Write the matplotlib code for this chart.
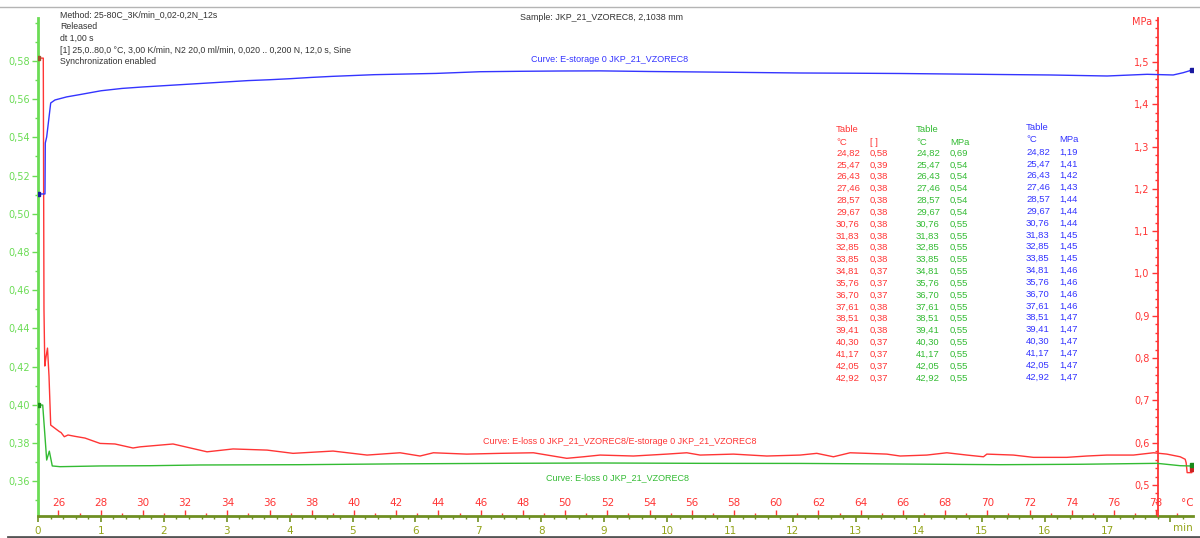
import matplotlib
matplotlib.use("Agg")
import matplotlib.pyplot as plt
from matplotlib.ticker import MultipleLocator, FixedLocator, FuncFormatter

# E-storage, MPa (right axis)
t_storage = [0, 0.111, 0.116, 0.138, 0.202, 0.270, 0.456, 0.668, 1.002, 1.335, 1.669,
             2.003, 2.337, 2.671, 3.005, 3.339, 3.672, 4.006, 4.340, 4.674, 5.008, 5.342,
             5.994, 6.328, 7.027, 7.663, 8.299, 8.935, 9.730, 10.525, 11.320, 12.114,
             12.909, 13.704, 14.499, 15.294, 16.089, 16.995, 17.631, 18.045, 18.204, 18.347]
e_storage = [1.188, 1.188, 1.3085, 1.3227, 1.4031, 1.4102, 1.4175, 1.4230, 1.4320, 1.4375,
             1.4410, 1.4440, 1.4470, 1.4500, 1.4530, 1.4560, 1.4580, 1.4605, 1.4635, 1.4660,
             1.4680, 1.4700, 1.4720, 1.4730, 1.4770, 1.4780, 1.4787, 1.4790, 1.4775, 1.4764,
             1.4752, 1.4740, 1.4735, 1.4728, 1.4716, 1.4704, 1.4693, 1.4669, 1.4709, 1.4693,
             1.4747, 1.4811]

# E-loss, MPa (right axis)
t_loss = [0, 0.075, 0.138, 0.180, 0.227, 0.350, 0.986, 1.781, 2.576, 4.165, 5.755, 7.345,
          8.935, 10.525, 12.114, 13.704, 15.294, 16.566, 17.790, 18.156, 18.315, 18.347]
e_loss = [0.689, 0.689, 0.559, 0.580, 0.545, 0.5433, 0.5450, 0.5456, 0.5473, 0.5480, 0.5500,
          0.5512, 0.5520, 0.5512, 0.5510, 0.5496, 0.5480, 0.5490, 0.5512, 0.5456, 0.5450,
          0.5470]

# E-loss / E-storage (left axis)
t_ratio = [0, 0.084, 0.095, 0.108, 0.127, 0.151, 0.175, 0.202, 0.270, 0.339, 0.366, 0.418,
           0.477, 0.588, 0.747, 0.986, 1.224, 1.510, 1.622, 2.146, 2.687, 3.100, 3.641,
           4.054, 4.690, 5.231, 5.755, 6.073, 6.285, 6.815, 7.345, 7.875, 8.405, 8.670,
           8.935, 9.465, 9.995, 10.313, 10.525, 11.054, 11.585, 12.114, 12.380, 12.644,
           12.909, 13.175, 13.493, 13.704, 14.129, 14.447, 14.765, 15.029, 15.083, 15.505,
           15.824, 16.354, 16.672, 16.990, 17.413, 17.731, 17.944, 18.156, 18.236, 18.251,
           18.267, 18.342, 18.347]
ratio = [0.5815, 0.5815, 0.45, 0.4203, 0.425, 0.4297, 0.415, 0.3894, 0.3877, 0.386, 0.3855,
         0.3833, 0.3842, 0.3835, 0.3826, 0.3798, 0.3795, 0.3774, 0.378, 0.3795, 0.3754,
         0.3769, 0.3763, 0.3746, 0.3758, 0.3737, 0.3749, 0.3732, 0.3749, 0.3742, 0.3746,
         0.3749, 0.3720, 0.3728, 0.3737, 0.3732, 0.3742, 0.3749, 0.3737, 0.3742, 0.3732,
         0.3737, 0.3746, 0.3728, 0.3749, 0.3746, 0.3742, 0.3732, 0.3737, 0.3749, 0.3737,
         0.3728, 0.3742, 0.3737, 0.3725, 0.3725, 0.3732, 0.3737, 0.3737, 0.3749, 0.3742,
         0.3728, 0.3715, 0.3697, 0.3645, 0.3645, 0.3664]

# table values
tab_temp = [24.82, 25.47, 26.43, 27.46, 28.57, 29.67, 30.76, 31.83, 32.85, 33.85,
            34.81, 35.76, 36.70, 37.61, 38.51, 39.41, 40.30, 41.17, 42.05, 42.92]
tab_ratio = [0.58, 0.39, 0.38, 0.38, 0.38, 0.38, 0.38, 0.38, 0.38, 0.38,
             0.37, 0.37, 0.37, 0.38, 0.38, 0.38, 0.37, 0.37, 0.37, 0.37]
tab_loss = [0.69, 0.54, 0.54, 0.54, 0.54, 0.54, 0.55, 0.55, 0.55, 0.55,
            0.55, 0.55, 0.55, 0.55, 0.55, 0.55, 0.55, 0.55, 0.55, 0.55]
tab_storage = [1.19, 1.41, 1.42, 1.43, 1.44, 1.44, 1.44, 1.45, 1.45, 1.45,
               1.46, 1.46, 1.46, 1.46, 1.47, 1.47, 1.47, 1.47, 1.47, 1.47]

header = ["Method: 25-80C_3K/min_0,02-0,2N_12s",
          "Released",
          "dt 1,00 s",
          "[1] 25,0..80,0 \u00b0C, 3,00 K/min, N2 20,0 ml/min, 0,020 .. 0,200 N, 12,0 s, Sine",
          "Synchronization enabled"]
sample = "Sample: JKP_21_VZOREC8, 2,1038 mm"

T0 = 25.03       # temperature at t = 0
RATE = 2.98      # K/min

RED = "#ff3535"
GREEN = "#33bb33"
BLUE = "#3434ff"
LGREEN = "#6bdc55"
OLIVE = "#6f8f22"
TXT = "#333333"
FONT = "Liberation Sans"

W, H = 1200, 538


def px(x, y):
    return x / W, 1 - y / H


def dec(n):
    return FuncFormatter(lambda v, p: f"{v:.{n}f}".replace(".", ","))


fig = plt.figure(figsize=(12, 5.38), dpi=100)
ax = fig.add_axes([38 / W, (H - 516) / H, 1155 / W, 498 / H])
ax.patch.set_visible(False)
ax.set_xlim(0, 18.36)
ax.set_ylim(0.3418, 0.6025)

ax2 = ax.twinx()
ax2.set_ylim(0.4267, 1.604)

for s in ["top", "right"]:
    ax.spines[s].set_visible(False)
ax.spines["left"].set_color(LGREEN)
ax.spines["left"].set_linewidth(2)
ax.spines["bottom"].set_color(OLIVE)
ax.spines["bottom"].set_linewidth(2)

# left axis: ratio
ax.yaxis.set_major_locator(FixedLocator([0.36 + 0.02 * i for i in range(12)]))
ax.yaxis.set_minor_locator(MultipleLocator(0.01))
ax.yaxis.set_major_formatter(dec(2))
ax.tick_params(axis="y", which="major", colors=LGREEN, length=4, width=1, labelsize=7, pad=2)
ax.tick_params(axis="y", which="minor", colors=LGREEN, length=2.5, width=1)

# time axis
ax.xaxis.set_major_locator(MultipleLocator(1))
ax.xaxis.set_minor_locator(MultipleLocator(0.2))
ax.xaxis.set_major_formatter(FuncFormatter(lambda v, p: f"{v:.0f}" if v < 17.5 else ""))
ax.tick_params(axis="x", which="major", colors=OLIVE, length=4, width=1.2, labelsize=7.5,
               labelcolor="#94a41a", pad=3)
ax.tick_params(axis="x", which="minor", colors=OLIVE, length=2.5, width=1)

# right axis (MPa) sits at 17.8 min with labels on its left
for s in ["top", "right", "bottom"]:
    ax2.spines[s].set_visible(False)
ax2.yaxis.tick_left()
ax2.spines["left"].set_position(("data", 17.8))
ax2.spines["left"].set_color(RED)
ax2.spines["left"].set_linewidth(1.3)
ax2.yaxis.set_major_locator(FixedLocator([0.5 + 0.1 * i for i in range(11)]))
ax2.yaxis.set_minor_locator(MultipleLocator(0.02))
ax2.yaxis.set_major_formatter(dec(1))
ax2.tick_params(axis="y", which="major", colors=RED, length=4, width=1, labelsize=7, pad=2)
ax2.tick_params(axis="y", which="minor", colors=RED, length=2.5, width=1)
ax2.tick_params(axis="x", bottom=False, labelbottom=False)

# temperature scale drawn on the time axis, ticks pointing up
sec = ax.secondary_xaxis("top", functions=(lambda t: T0 + RATE * t, lambda T: (T - T0) / RATE))
sec.set_location(0.0)
sec.spines["top"].set_visible(False)
sec.xaxis.set_major_locator(MultipleLocator(2))
sec.xaxis.set_minor_locator(MultipleLocator(1))
sec.xaxis.set_major_formatter(FuncFormatter(lambda v, p: f"{v:.0f}" if v < 79 else ""))
sec.tick_params(axis="x", which="major", colors=RED, length=4, width=1, labelsize=7.5, pad=2)
sec.tick_params(axis="x", which="minor", colors=RED, length=2.5, width=1)

# curves
ax.plot(t_ratio, ratio, color=RED, lw=1.0, zorder=3)
ax2.plot(t_loss, e_loss, color=GREEN, lw=1.0, zorder=3)
ax2.plot(t_storage, e_storage, color=BLUE, lw=1.0, zorder=3)
ax.plot([t_ratio[0]], [ratio[0]], "s", ms=2.5, color="#a0522d", zorder=4)
ax.plot([t_ratio[-1]], [ratio[-1]], "s", ms=2.5, color="#cc2222", zorder=4)
ax2.plot([t_loss[0], t_loss[-1]], [e_loss[0], e_loss[-1]], "s", ms=2.5, color="#1a8a1a", zorder=4)
ax2.plot([t_storage[0], t_storage[-1]], [e_storage[0], e_storage[-1]], "s", ms=2.5,
         color="#1a1aa0", zorder=4)

# axis units
fig.text(*px(1187, 503), "\u00b0C", color=RED, fontsize=7.5, ha="center", va="center")
fig.text(*px(1183, 528), "min", color="#94a41a", fontsize=7.5, ha="center", va="center")
fig.text(*px(1152, 22), "MPa", color=RED, fontsize=7, ha="right", va="center")

# header
for i, line in enumerate(header):
    fig.text(*px(60, 15 + 11.7 * i), line, color=TXT, fontsize=6.3, family=FONT,
             ha="left", va="center")
fig.text(*px(601, 17), sample, color=TXT, fontsize=6.4, family=FONT, ha="center", va="center")

# curve captions
fig.text(*px(610, 60), "Curve: E-storage 0 JKP_21_VZOREC8", color=BLUE, fontsize=6.5,
         family=FONT, ha="center", va="center")
fig.text(*px(620, 441), "Curve: E-loss 0 JKP_21_VZOREC8/E-storage 0 JKP_21_VZOREC8",
         color=RED, fontsize=6.5, family=FONT, ha="center", va="center")
fig.text(*px(617, 478), "Curve: E-loss 0 JKP_21_VZOREC8", color=GREEN, fontsize=6.5,
         family=FONT, ha="center", va="center")

# tables
groups = [(836, 870, 130, 153, "[ ]", tab_ratio, RED),
          (916, 950, 130, 153, "MPa", tab_loss, GREEN),
          (1026, 1059, 127, 152, "MPa", tab_storage, BLUE)]
for x1, x2, yh, y0, unit, vals, col in groups:
    kw = dict(color=col, fontsize=6.8, family=FONT, ha="left", va="center")
    fig.text(*px(x1, yh), "Table", **kw)
    fig.text(*px(x1, yh + 12), "\u00b0C", **kw)
    fig.text(*px(x2, yh + 12), unit, **kw)
    for k, (tc, v) in enumerate(zip(tab_temp, vals)):
        y = y0 + 11.84 * k
        fig.text(*px(x1, y), f"{tc:.2f}".replace(".", ","), **kw)
        fig.text(*px(x2, y), f"{v:.2f}".replace(".", ","), **kw)

# window frame lines
fig.add_artist(plt.Line2D([0, 1], [1 - 6.5 / H, 1 - 6.5 / H], color="#b4b4b4", lw=1))
fig.add_artist(plt.Line2D([8 / W, 1], [1.5 / H, 1.5 / H], color="#555555", lw=2))

fig.savefig("out.png", dpi=100)
